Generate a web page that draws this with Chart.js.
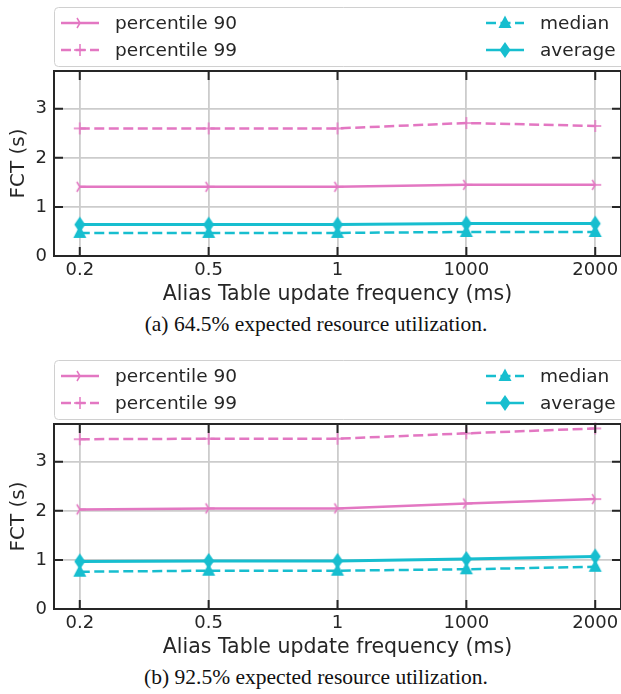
<!DOCTYPE html>
<html>
<head>
<meta charset="utf-8">
<script src="https://cdn.jsdelivr.net/npm/chart.js@4"></script>
<style>
  html, body { margin: 0; padding: 0; background: #fff; overflow: hidden; width: 621px; height: 694px; }
  .panel { position: absolute; left: 0; width: 628px; height: 310px; }
  .caption { position: absolute; left: 0; width: 632px; text-align: center;
    font-family: "Liberation Serif", serif; font-size: 21.5px; line-height: 25px; color: #111; }
</style>
</head>
<body>
<div class="panel" style="top:0"><canvas id="chartA" width="628" height="310"></canvas></div>
<div class="caption" style="top:312px">(a) 64.5% expected resource utilization.</div>
<div class="panel" style="top:353px"><canvas id="chartB" width="628" height="310"></canvas></div>
<div class="caption" style="top:665px">(b) 92.5% expected resource utilization.</div>

<script>
// data
const frequencies = ['0.2', '0.5', '1', '1000', '2000'];
const yTicks = [0, 1, 2, 3];

const p90A = [1.41, 1.41, 1.41, 1.45, 1.45];
const p99A = [2.60, 2.60, 2.60, 2.71, 2.65];
const medianA = [0.47, 0.47, 0.47, 0.49, 0.49];
const averageA = [0.64, 0.64, 0.64, 0.66, 0.66];

const p90B = [2.03, 2.05, 2.05, 2.15, 2.24];
const p99B = [3.46, 3.47, 3.47, 3.58, 3.68];
const medianB = [0.76, 0.78, 0.78, 0.81, 0.86];
const averageB = [0.97, 0.98, 0.98, 1.02, 1.07];

const PINK = '#e377c2';
const CYAN = '#17becf';
const INK = '#262626';
const FONT = '"DejaVu Sans", sans-serif';
const DASH = [10, 4.5];

// marker drawers (shared by the points and the legend)
function drawTriRight(ctx, x, y, color) {
  ctx.save();
  ctx.strokeStyle = color;
  ctx.lineWidth = 1.5;
  ctx.beginPath();
  ctx.moveTo(x, y); ctx.lineTo(x + 6, y);
  ctx.moveTo(x, y); ctx.lineTo(x - 3, y - 5);
  ctx.moveTo(x, y); ctx.lineTo(x - 3, y + 5);
  ctx.stroke();
  ctx.restore();
}
function drawThinDiamond(ctx, x, y, color) {
  ctx.save();
  ctx.fillStyle = color;
  ctx.beginPath();
  ctx.moveTo(x, y - 8); ctx.lineTo(x + 5.5, y); ctx.lineTo(x, y + 8); ctx.lineTo(x - 5.5, y);
  ctx.closePath();
  ctx.fill();
  ctx.restore();
}
function drawPlus(ctx, x, y, color) {
  ctx.save();
  ctx.strokeStyle = color;
  ctx.lineWidth = 1.5;
  ctx.beginPath();
  ctx.moveTo(x - 6, y); ctx.lineTo(x + 6, y);
  ctx.moveTo(x, y - 6); ctx.lineTo(x, y + 6);
  ctx.stroke();
  ctx.restore();
}
function drawTriangle(ctx, x, y, color) {
  ctx.save();
  ctx.fillStyle = color;
  ctx.beginPath();
  ctx.moveTo(x, y - 7.5); ctx.lineTo(x + 6.5, y + 5); ctx.lineTo(x - 6.5, y + 5);
  ctx.closePath();
  ctx.fill();
  ctx.restore();
}

function markerCanvas(draw, color, w, h) {
  const c = document.createElement('canvas');
  c.width = w; c.height = h;
  draw(c.getContext('2d'), w / 2, h / 2, color);
  return c;
}

const triMark = markerCanvas(drawTriRight, PINK, 16, 16);
const plusMark = markerCanvas(drawPlus, PINK, 16, 16);
const triangleMark = markerCanvas(drawTriangle, CYAN, 16, 16);
const diamondMark = markerCanvas(drawThinDiamond, CYAN, 14, 18);

const legendItems = [
  { label: 'percentile 90', color: PINK, dash: [], marker: drawTriRight, lx: 61, ly: 23 },
  { label: 'percentile 99', color: PINK, dash: DASH, marker: drawPlus, lx: 61, ly: 50 },
  { label: 'median', color: CYAN, dash: DASH, marker: drawTriangle, lx: 486, ly: 23 },
  { label: 'average', color: CYAN, dash: [], marker: drawThinDiamond, lx: 486, ly: 50 },
];

const legendPlugin = {
  id: 'boxLegend',
  afterDraw(chart) {
    const ctx = chart.ctx;
    ctx.save();
    ctx.beginPath();
    ctx.roundRect(54.5, 7.5, 600, 59, 4);
    ctx.fillStyle = 'rgba(255,255,255,0.8)';
    ctx.fill();
    ctx.strokeStyle = '#d0d0d0';
    ctx.lineWidth = 1;
    ctx.stroke();
    ctx.font = '18.5px ' + FONT;
    ctx.textBaseline = 'middle';
    legendItems.forEach(it => {
      ctx.save();
      ctx.strokeStyle = it.color;
      ctx.lineWidth = 2.5;
      ctx.setLineDash(it.dash);
      ctx.beginPath();
      ctx.moveTo(it.lx, it.ly);
      ctx.lineTo(it.lx + 38, it.ly);
      ctx.stroke();
      ctx.restore();
      it.marker(ctx, it.lx + 19, it.ly, it.color);
      ctx.fillStyle = INK;
      ctx.fillText(it.label, it.lx + 54, it.ly + 1);
    });
    ctx.restore();
  }
};

// matplotlib-like frame with inward ticks on all four sides
const framePlugin = {
  id: 'frame',
  afterDatasetsDraw(chart) {
    const { ctx, chartArea: a, scales } = chart;
    ctx.save();
    ctx.strokeStyle = INK;
    ctx.lineWidth = 2;
    ctx.strokeRect(a.left, a.top, a.right - a.left, a.bottom - a.top);
    ctx.beginPath();
    frequencies.forEach((f, i) => {
      const x = scales.x.getPixelForValue(i);
      ctx.moveTo(x, a.top); ctx.lineTo(x, a.top + 9);
      ctx.moveTo(x, a.bottom); ctx.lineTo(x, a.bottom - 9);
    });
    yTicks.forEach(v => {
      const y = scales.y.getPixelForValue(v);
      ctx.moveTo(a.left, y); ctx.lineTo(a.left + 9, y);
      ctx.moveTo(a.right, y); ctx.lineTo(a.right - 9, y);
    });
    ctx.stroke();
    ctx.restore();
  }
};

function points(values) {
  return values.map((v, i) => ({ x: i, y: v }));
}

function makeChart(id, p90, p99, median, average) {
  const ctx = document.getElementById(id).getContext('2d');
  return new Chart(ctx, {
    type: 'line',
    data: {
      datasets: [
        { label: 'percentile 90', data: points(p90), borderColor: PINK, borderWidth: 2.5,
          pointStyle: triMark, clip: false },
        { label: 'percentile 99', data: points(p99), borderColor: PINK, borderWidth: 2.5,
          borderDash: DASH, pointStyle: plusMark, clip: false },
        { label: 'median', data: points(median), borderColor: CYAN, borderWidth: 2.5,
          borderDash: DASH, pointStyle: triangleMark, clip: false },
        { label: 'average', data: points(average), borderColor: CYAN, borderWidth: 3,
          pointStyle: diamondMark, clip: false },
      ]
    },
    options: {
      responsive: false,
      animation: false,
      layout: { padding: { top: 71, left: 0, right: 0, bottom: 0 } },
      plugins: { legend: { display: false }, tooltip: { enabled: false } },
      scales: {
        x: {
          type: 'linear',
          min: -0.2,
          max: 4.2,
          afterBuildTicks: s => { s.ticks = frequencies.map((f, i) => ({ value: i })); },
          afterFit: s => { s.height = 54; s.paddingLeft = 0; s.paddingRight = 0; },
          ticks: {
            callback: v => frequencies[v],
            autoSkip: false, maxRotation: 0,
            color: INK, padding: 4,
            font: { family: FONT, size: 18 }
          },
          grid: { color: '#cccccc', lineWidth: 1.8, drawTicks: false },
          border: { display: false },
          title: {
            display: true, text: 'Alias Table update frequency (ms)', color: INK,
            font: { family: FONT, size: 20.5 }, padding: { top: 0, bottom: 3 }
          }
        },
        y: {
          min: 0,
          max: 3.77,
          afterBuildTicks: s => { s.ticks = yTicks.map(v => ({ value: v })); },
          afterFit: s => { s.width = 54; s.paddingTop = 0; s.paddingBottom = 0; },
          ticks: { color: INK, padding: 7, font: { family: FONT, size: 18 } },
          grid: { color: '#cccccc', lineWidth: 1.8, drawTicks: false },
          border: { display: false },
          title: {
            display: true, text: 'FCT (s)', color: INK,
            font: { family: FONT, size: 20 }, padding: { top: 7, bottom: 0 }
          }
        }
      }
    },
    plugins: [legendPlugin, framePlugin]
  });
}

makeChart('chartA', p90A, p99A, medianA, averageA);
makeChart('chartB', p90B, p99B, medianB, averageB);
</script>
</body>
</html>
